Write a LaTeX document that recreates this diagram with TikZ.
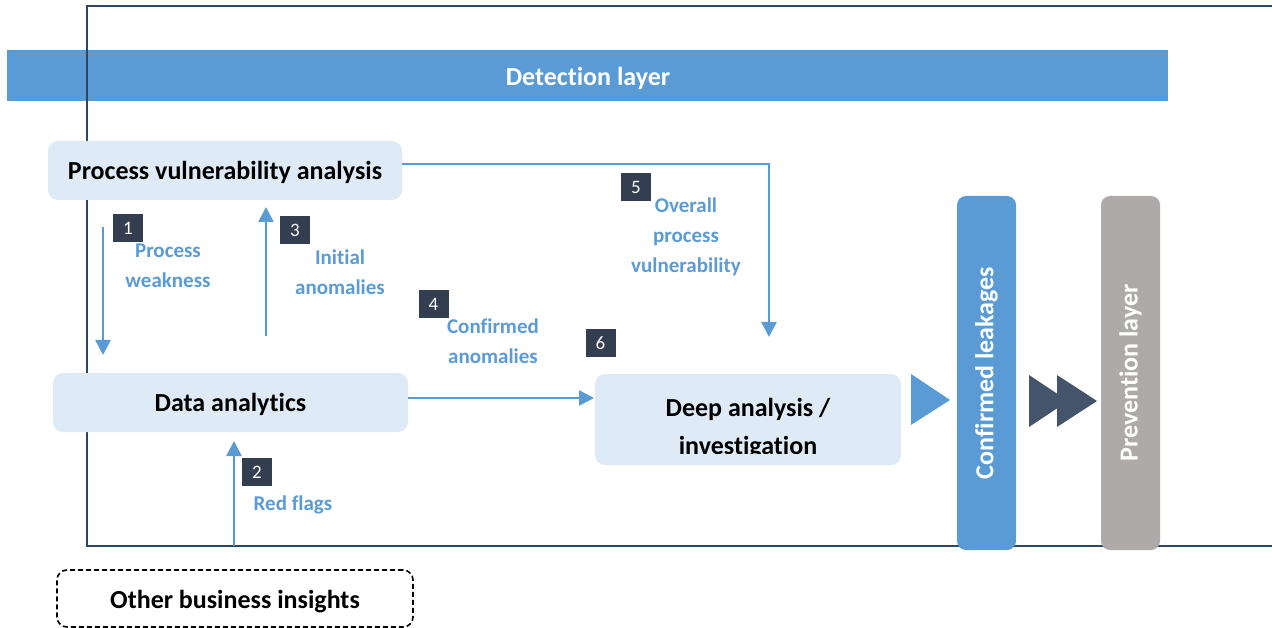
\documentclass[tikz,border=0pt]{standalone}
\usepackage{fontspec}
\setmainfont{Carlito}[Ligatures=NoCommon]
\usetikzlibrary{arrows.meta,calc}
\definecolor{accent}{HTML}{5B9BD5}
\definecolor{paleblue}{HTML}{DEEBF7}
\definecolor{framecol}{HTML}{2E4560}
\definecolor{badgecol}{HTML}{333F50}
\definecolor{darktri}{HTML}{44546A}
\definecolor{greybar}{HTML}{AEAAAA}
\tikzset{
  mainfont/.style={font=\fontsize{26}{38}\selectfont\bfseries},
  box/.style={fill=paleblue, rounded corners=10pt, inner sep=0pt, outer sep=0pt, align=center},
  txt/.style={mainfont, align=center, inner sep=0pt},
  dashbox/.style={draw=black, line width=1.6pt, dash pattern=on 5pt off 3pt, fill=white, rounded corners=10pt, inner sep=0pt},
  vbar/.style={rounded corners=9pt, inner sep=0pt, outer sep=0pt, minimum width=59pt, minimum height=354pt},
  vtext/.style={mainfont, text=white, rotate=90},
  badge/.style={fill=badgecol, text=white, minimum width=30pt, minimum height=28pt, inner sep=0pt, font=\fontsize{19}{22}\selectfont},
  lbl/.style={text=accent, font=\fontsize{21}{30}\selectfont\bfseries, align=center, inner sep=0pt},
  flow/.style={draw=accent, line width=2.6pt, -{Triangle[length=15pt,width=15pt]}},
}
\begin{document}
\begin{tikzpicture}[x=1pt,y=-1pt]
\useasboundingbox (0,0) rectangle (1272,628);

% detection layer band
\fill[accent] (7,50) rectangle (1168,101);
\node[txt, text=white] (detection) at (588,78) {Detection layer};

% outer frame, open on the right
\draw[framecol, line width=2.4pt] (1272,6) -- (87,6) -- (87,546) -- (1272,546);

% main stages
\node[box, minimum width=354pt, minimum height=59pt] (pva) at (225,170.5) {};
\node[txt] (pvatxt) at ([yshift=-1.5]pva.center) {Process vulnerability analysis};
\node[box, minimum width=355pt, minimum height=59pt] (da) at (230.5,402.5) {};
\node[txt] (datxt) at ([yshift=-1.5]da.center) {Data analytics};
\node[box, minimum width=306pt, minimum height=91pt] (deep) at (748,419.5) {};
\begin{scope}
  \clip (595,374) rectangle (901,453);
  \node[txt] (deeptxt) at (748,428.5) {Deep analysis /\\investigation};
\end{scope}
\node[dashbox, minimum width=356pt, minimum height=57pt] (obi) at (235,598.5) {};
\node[txt] (obitxt) at ([yshift=-3]obi.center) {Other business insights};

% vertical result bars
\node[vbar, fill=accent] (conf) at (986.5,373) {};
\node[vtext] (conftxt) at (conf.center) {Confirmed leakages};
\node[vbar, fill=greybar] (prev) at (1130.5,373) {};
\node[vtext] (prevtxt) at (prev.center) {Prevention layer};

% chevrons between stages
\fill[accent] (911,374) -- (950,400) -- (911,425) -- cycle;
\fill[darktri] (1029,375) -- (1068,401) -- (1029,427) -- cycle;
\fill[darktri] (1057,375) -- (1097,401) -- (1057,427) -- cycle;

% connector anchors
\coordinate (w1) at (103,227);
\coordinate (w2) at (103,355);
\coordinate (r1) at (234,546);
\coordinate (r2) at (234,441);
\coordinate (i1) at (266,336);
\coordinate (i2) at (266,207);
\coordinate (c4) at (0,398);
\coordinate (c5) at (769,164);
\coordinate (c5e) at (769,337);

% connectors
\draw[flow] (w1) -- (w2);
\draw[flow] (r1) -- (r2);
\draw[flow] (i1) -- (i2);
\draw[flow] (c4 -| da.east) -- ($(c4 -| deep.west)+(-1,0)$);
\draw[flow] (c5 -| pva.east) -- (c5) -- (c5e);

% step badges
\node[badge] (b1) at (128,228) {1};
\node[badge] (b2) at (257,472) {2};
\node[badge] (b3) at (295,230.5) {3};
\node[badge] (b4) at (433.5,304.5) {4};
\node[badge] (b5) at (636,187) {5};
\node[badge] (b6) at (600.5,343) {6};

% connector labels
\node[lbl] (l1) at (168,266) {Process\\weakness};
\node[lbl] (l2) at (293,505) {Red flags};
\node[lbl] (l3) at (340,272) {Initial\\anomalies};
\node[lbl] (l4) at (493,341.5) {Confirmed\\anomalies};
\node[lbl] (l5) at (686,237) {Overall\\process\\vulnerability};
\end{tikzpicture}
\end{document}
